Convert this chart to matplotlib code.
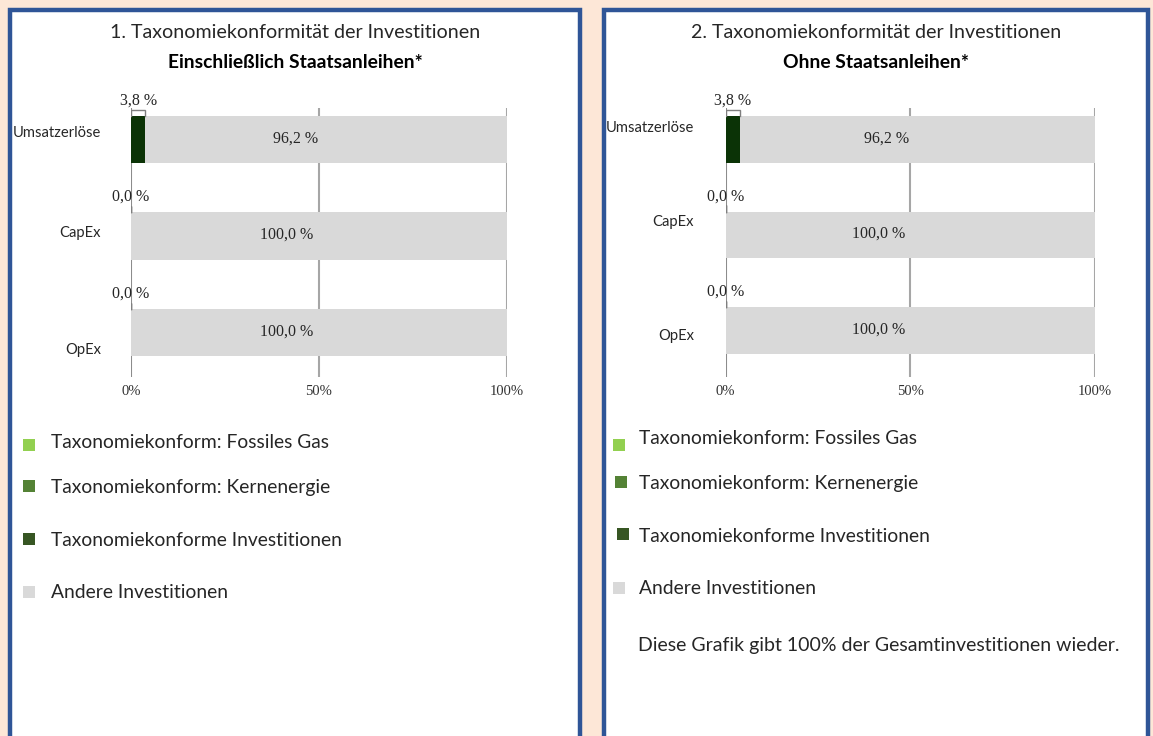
import matplotlib
matplotlib.use("Agg")
import matplotlib.pyplot as plt
from matplotlib.patches import Rectangle

# ---------------- data ----------------
categories = ["Umsatzerlöse", "CapEx", "OpEx"]
fossil_gas_1 = [0.0, 0.0, 0.0]
nuclear_1 = [0.0, 0.0, 0.0]
aligned_1 = [3.8, 0.0, 0.0]
other_1 = [96.2, 100.0, 100.0]

fossil_gas_2 = [0.0, 0.0, 0.0]
nuclear_2 = [0.0, 0.0, 0.0]
aligned_2 = [3.8, 0.0, 0.0]
other_2 = [96.2, 100.0, 100.0]

tick_values = [0, 50, 100]
tick_labels = ["0%", "50%", "100%"]

titles_1 = ["1. Taxonomiekonformität der Investitionen", "Einschließlich Staatsanleihen*"]
titles_2 = ["2. Taxonomiekonformität der Investitionen", "Ohne Staatsanleihen*"]
legend_labels = ["Taxonomiekonform: Fossiles Gas", "Taxonomiekonform: Kernenergie",
                 "Taxonomiekonforme Investitionen", "Andere Investitionen"]
note_text = "Diese Grafik gibt 100% der Gesamtinvestitionen wieder."

# ---------------- style ----------------
W, H = 1153, 736
BG = "#FDE7D7"
BORDER = "#2F5597"
C_GAS = "#92D050"
C_NUC = "#548235"
C_ALN = "#375623"
C_BAR_ALN = "#0B3306"
C_OTH = "#D9D9D9"
SANS = "Lato"
SERIF = "Liberation Serif"
TXT = "#262626"

fig = plt.figure(figsize=(W / 100, H / 100), dpi=100)
fig.patch.set_facecolor(BG)


def fx(px):
    return px / W


def fy(py):
    return 1 - py / H


def panel_box(x0, x1, y0):
    fig.patches.append(Rectangle((fx(x0), fy(H + 20)), fx(x1 - x0), (H + 20 - y0) / H,
                                 transform=fig.transFigure, facecolor="white",
                                 edgecolor=BORDER, linewidth=3.2, zorder=-5))


def draw_panel(p):
    panel_box(p["box"][0], p["box"][1], p["box"][2])
    cx = p["title_x"]
    fig.text(fx(cx), fy(33), p["titles"][0], ha="center", va="center",
             fontsize=14.1, family=SANS, color=TXT)
    fig.text(fx(cx), fy(62), p["titles"][1], ha="center", va="center",
             fontsize=13.9, family=SANS, weight="bold", color="black")

    # axes placement in pixels
    ax_l, ax_r, ax_t, ax_b = p["ax"]
    ax = fig.add_axes([fx(ax_l), fy(ax_b), fx(ax_r - ax_l), (ax_b - ax_t) / H])
    ax.set_facecolor("none")
    ypos = list(range(len(categories)))
    bh = 0.49
    left = [0.0] * len(categories)
    for vals, col in [(p["gas"], C_GAS), (p["nuc"], C_NUC),
                      (p["aln"], C_BAR_ALN), (p["oth"], C_OTH)]:
        ax.barh(ypos, vals, left=left, height=bh, color=col, zorder=2, linewidth=0)
        left = [a + b for a, b in zip(left, vals)]
    ax.set_xlim(0, 100)
    ax.set_ylim(p["ylim"])
    for v in tick_values:
        ax.axvline(v, color="#8C8C8C" if v == 0 else "#A6A6A6", lw=1.5, zorder=1)
    ax.set_xticks(tick_values)
    ax.set_xticklabels(tick_labels, family=SERIF, fontsize=10.5, color="#333333")
    ax.tick_params(axis="x", length=0, pad=6)
    ax.set_yticks([])
    for s in ax.spines.values():
        s.set_visible(False)

    # value labels
    for i, (a, o) in enumerate(zip(p["aln"], p["oth"])):
        top = i - bh / 2
        lab_a = f"{a:.1f} %".replace(".", ",")
        lab_o = f"{o:.1f} %".replace(".", ",")
        ax.text(a / 2, top - 0.16, lab_a, ha="center", va="center",
                family=SERIF, fontsize=11.5, color=TXT, zorder=4)
        ax.plot([0, 0, a, a], [top, top - 0.065, top - 0.065, top],
                color="#7F7F7F", lw=1.0, zorder=3, solid_joinstyle="miter")
        ax.text(a + 0.41 * o + 0.5, i - 0.01, lab_o, ha="center", va="center",
                family=SERIF, fontsize=11.5, color=TXT, zorder=4)

    # category labels
    for cat, (lx, ly) in zip(categories, p["cat_pos"]):
        fig.text(fx(lx), fy(ly), cat, ha="right", va="center",
                 fontsize=10.6, family=SANS, color=TXT)

    # legend
    cols = [C_GAS, C_NUC, C_ALN, C_OTH]
    for lab, col, (sq, tx) in zip(legend_labels, cols, p["legend"]):
        sx, sy = sq
        fig.patches.append(Rectangle((fx(sx), fy(sy + 12)), fx(12), 12 / H,
                                     transform=fig.transFigure, facecolor=col,
                                     edgecolor="none", zorder=2))
        fig.text(fx(tx[0]), fy(tx[1]), lab, ha="left", va="center",
                 fontsize=13.9, family=SANS, color=TXT)
    return ax


panel1 = dict(box=(10, 580, 10), title_x=295, titles=titles_1,
              ax=(131, 507, 108, 377), ylim=(2.461, -0.326),
              gas=fossil_gas_1, nuc=nuclear_1, aln=aligned_1, oth=other_1,
              cat_pos=[(101, 133), (101, 233), (101, 350)],
              legend=[((23, 439), (51, 443)), ((23, 480), (51, 487)),
                      ((23, 533), (51, 540)), ((23, 586), (51, 593))])
panel2 = dict(box=(604, 1148, 10), title_x=876, titles=titles_2,
              ax=(725.5, 1094.6, 108, 377), ylim=(2.49, -0.331),
              gas=fossil_gas_2, nuc=nuclear_2, aln=aligned_2, oth=other_2,
              cat_pos=[(694, 128), (694, 222), (694, 336)],
              legend=[((613, 439), (639, 438)), ((615, 476), (639, 483)),
                      ((617, 528), (639, 537)), ((613, 582), (639, 588))])

draw_panel(panel1)
draw_panel(panel2)
fig.text(fx(638), fy(645), note_text, ha="left", va="center",
         fontsize=14.0, family=SANS, color=TXT)

fig.savefig("out.png", dpi=100, facecolor=BG)
